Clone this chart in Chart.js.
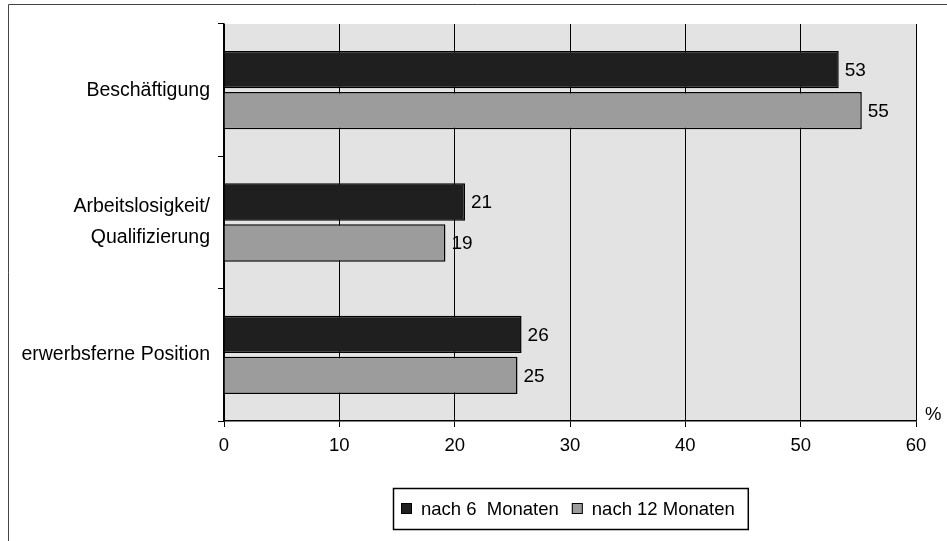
<!DOCTYPE html>
<html>
<head>
<meta charset="utf-8">
<script src="https://cdn.jsdelivr.net/npm/chart.js@4"></script>
<style>
html, body { margin: 0; padding: 0; background: #fff; }
</style>
</head>
<body>
<canvas id="chart" width="947" height="541"></canvas>
<script>
// Daten
const categories = ['Beschäftigung', ['Arbeitslosigkeit/', 'Qualifizierung'], 'erwerbsferne Position'];
const seriesNames = ['nach 6  Monaten', 'nach 12 Monaten'];
const nach6 = [53.3, 20.9, 25.8];
const nach12 = [55.3, 19.2, 25.45];
const xTicks = [0, 10, 20, 30, 40, 50, 60];
const unitLabel = '%';

const FONT = "'Liberation Sans', Arial, sans-serif";
const colors = ['#1f1f1f', '#9c9c9c'];

// Hintergrund, Rahmen, Werte, Einheit und Legende
const decor = {
    id: 'decor',
    beforeDraw(chart) {
        const { ctx, chartArea: a } = chart;
        ctx.save();
        ctx.fillStyle = '#fff';
        ctx.fillRect(0, 0, chart.width, chart.height);
        ctx.fillStyle = '#e3e3e3';
        ctx.fillRect(a.left, a.top, a.right - a.left, a.bottom - a.top);
        ctx.strokeStyle = '#444';
        ctx.lineWidth = 1;
        ctx.beginPath();
        ctx.moveTo(8.5, chart.height);
        ctx.lineTo(8.5, 4.5);
        ctx.lineTo(chart.width, 4.5);
        ctx.stroke();
        ctx.restore();
    },
    afterDatasetsDraw(chart) {
        const ctx = chart.ctx;
        ctx.save();
        ctx.font = '19px ' + FONT;
        ctx.fillStyle = '#000';
        ctx.textAlign = 'left';
        ctx.textBaseline = 'middle';
        chart.data.datasets.forEach((ds, i) => {
            chart.getDatasetMeta(i).data.forEach((el, j) => {
                ctx.fillText(String(Math.round(ds.data[j])), el.x + 6, el.y + 1);
            });
        });
        ctx.restore();
    },
    afterDraw(chart) {
        const { ctx, chartArea: a } = chart;
        ctx.save();
        ctx.font = '18.5px ' + FONT;
        ctx.fillStyle = '#000';
        ctx.textBaseline = 'middle';
        ctx.textAlign = 'left';
        ctx.fillText(unitLabel, a.right + 9, a.bottom - 6);

        // Legende
        const box = 11, gapBox = 9, gapItem = 13, padL = 8, padR = 13;
        const widths = seriesNames.map(n => ctx.measureText(n).width);
        let total = padL + padR + gapItem * (seriesNames.length - 1);
        widths.forEach(w => { total += box + gapBox + w; });
        const top = a.bottom + 67, h = 41;
        const x0 = Math.round((a.left + a.right) / 2 - total / 2);
        ctx.strokeStyle = '#000';
        ctx.lineWidth = 1.5;
        ctx.strokeRect(x0 + 0.5, top + 0.5, total, h);
        const cy = top + h / 2;
        let x = x0 + padL;
        seriesNames.forEach((n, i) => {
            ctx.fillStyle = colors[i];
            ctx.fillRect(x, cy - box / 2, box, box);
            ctx.lineWidth = 1;
            ctx.strokeRect(x + 0.5, cy - box / 2 + 0.5, box - 1, box - 1);
            ctx.fillStyle = '#000';
            ctx.fillText(n, x + box + gapBox, cy + 1);
            x += box + gapBox + widths[i] + gapItem;
        });
        ctx.restore();
    }
};

new Chart(document.getElementById('chart').getContext('2d'), {
    type: 'bar',
    data: {
        labels: categories,
        datasets: [
            {
                label: seriesNames[0],
                data: nach6,
                backgroundColor: colors[0],
                borderColor: '#000',
                borderWidth: 1.5
            },
            {
                label: seriesNames[1],
                data: nach12,
                backgroundColor: colors[1],
                borderColor: '#000',
                borderWidth: 1.5
            }
        ]
    },
    options: {
        indexAxis: 'y',
        responsive: false,
        animation: false,
        categoryPercentage: 0.62,
        barPercentage: 0.91,
        layout: { padding: { left: 0, right: 31, top: 24, bottom: 0 } },
        plugins: {
            legend: { display: false },
            tooltip: { enabled: false }
        },
        scales: {
            x: {
                min: 0,
                max: 60,
                afterBuildTicks: s => { s.ticks = xTicks.map(v => ({ value: v })); },
                afterFit: s => { s.height = 120; },
                grid: { color: '#000', lineWidth: 1, tickLength: 6 },
                border: { color: '#000', width: 1.5 },
                ticks: { color: '#000', font: { size: 18.5, family: FONT }, padding: 8, maxRotation: 0 }
            },
            y: {
                afterFit: s => { s.width = 224; },
                grid: { drawOnChartArea: false, drawTicks: true, tickLength: 6, color: '#000', offset: true },
                border: { color: '#000', width: 1.5 },
                ticks: { color: '#000', font: { size: 19.5, family: FONT, lineHeight: 1.6 }, padding: 8 }
            }
        }
    },
    plugins: [decor]
});
</script>
</body>
</html>
